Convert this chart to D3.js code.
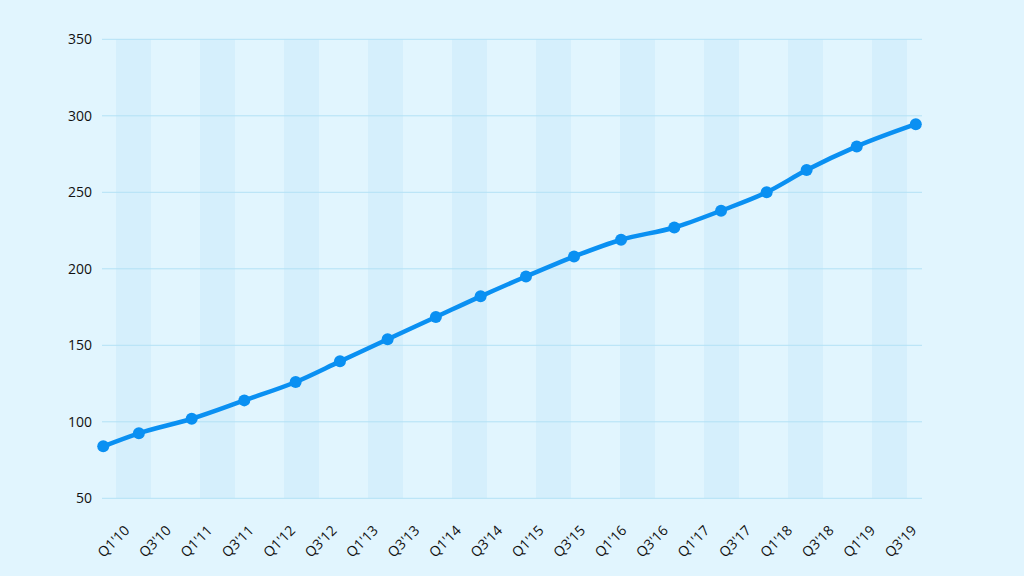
<!DOCTYPE html>
<html>
<head>
<meta charset="utf-8">
<script src="https://cdn.jsdelivr.net/npm/d3@7"></script>
<style>
  html, body { margin: 0; padding: 0; background: #E1F5FE; }
  svg { display: block; }
  text { font-family: "Open Sans", "Noto Sans", sans-serif; fill: #111; }
</style>
</head>
<body>
<svg id="chart" width="1024" height="576"></svg>
<script>
// ---- data ----
const tickLabels = ["Q1'10","Q3'10","Q1'11","Q3'11","Q1'12","Q3'12","Q1'13","Q3'13","Q1'14","Q3'14",
                    "Q1'15","Q3'15","Q1'16","Q3'16","Q1'17","Q3'17","Q1'18","Q3'18","Q1'19","Q3'19"];
const tickQuarters = [0,2,4,6,8,10,12,14,16,18,20,22,24,26,28,30,32,34,36,38];
// x position of each point, in quarters since Q1'10
const pointQuarters = [-1.24, 0.48, 3.03, 5.57, 8.05, 10.19, 12.49, 14.82, 16.98, 19.17,
                       21.49, 23.76, 26.33, 28.59, 30.79, 32.72, 35.14, 37.99];
const values = [84, 92.5, 102, 114, 126, 139.5, 154, 168.5, 182, 195,
                208, 219, 227, 238, 250, 264.5, 280, 294.5];
const yTicks = [50, 100, 150, 200, 250, 300, 350];

// ---- layout ----
const plot = { left: 102, right: 922, top: 39.3, bottom: 498.3 };
const svg = d3.select("#chart");

const x = d3.scaleLinear().domain([-1.3, 38.29]).range([plot.left, plot.right]);
const y = d3.scaleLinear().domain([50, 350]).range([plot.bottom, plot.top]);

// stripes: alternate bands of a band scale over the tick labels
const band = d3.scaleBand().domain(tickLabels).range([70.5, 910.5])
  .paddingInner(1/6).paddingOuter(1/12);
svg.append("g").selectAll("rect")
  .data(tickLabels.filter((d, i) => i % 2 === 1))
  .join("rect")
  .attr("x", d => band(d))
  .attr("y", plot.top)
  .attr("width", band.bandwidth())
  .attr("height", plot.bottom - plot.top)
  .attr("fill", "#D5EFFC");

// gridlines
svg.append("g").selectAll("line")
  .data(yTicks)
  .join("line")
  .attr("x1", plot.left).attr("x2", plot.right)
  .attr("y1", d => y(d)).attr("y2", d => y(d))
  .attr("stroke", "#B3E2F5").attr("stroke-width", 1);

// y axis labels
const yAxis = d3.axisLeft(y).tickValues(yTicks).tickSize(0).tickPadding(10);
const gy = svg.append("g").attr("transform", `translate(${plot.left},0)`).call(yAxis);
gy.select(".domain").remove();
gy.selectAll("text").style("font-size", "14px").attr("fill", "#111")
  .style("font-family", "'Open Sans', 'Noto Sans', sans-serif");

// x axis labels
const xAxis = d3.axisBottom(x).tickValues(tickQuarters)
  .tickFormat((d, i) => tickLabels[i]).tickSize(0).tickPadding(0);
const gx = svg.append("g").attr("transform", `translate(1,${plot.bottom + 33})`).call(xAxis);
gx.select(".domain").remove();
gx.selectAll("text")
  .style("font-size", "14px").attr("fill", "#111")
  .style("font-family", "'Open Sans', 'Noto Sans', sans-serif")
  .attr("text-anchor", "end")
  .attr("dy", "0")
  .attr("y", 0)
  .attr("transform", "rotate(-45)");

// line
const pts = pointQuarters.map((q, i) => ({ q, v: values[i] }));
const line = d3.line().x(d => x(d.q)).y(d => y(d.v)).curve(d3.curveMonotoneX);
svg.append("path")
  .datum(pts)
  .attr("d", line)
  .attr("fill", "none")
  .attr("stroke", "#0A90F2")
  .attr("stroke-width", 4.5)
  .attr("stroke-linejoin", "round")
  .attr("stroke-linecap", "round");

svg.append("g").selectAll("circle")
  .data(pts)
  .join("circle")
  .attr("cx", d => x(d.q))
  .attr("cy", d => y(d.v))
  .attr("r", 6)
  .attr("fill", "#0A90F2");
</script>
</body>
</html>
